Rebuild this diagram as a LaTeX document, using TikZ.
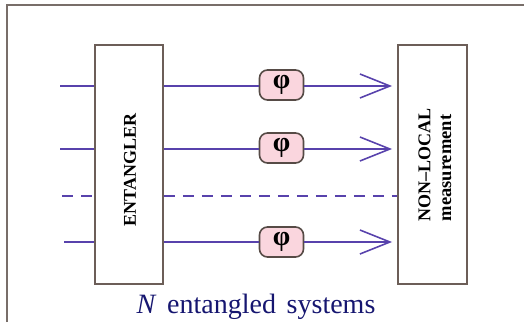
\documentclass[tikz,border=0pt]{standalone}
\usepackage{fontspec}
\setmainfont{Liberation Serif}
\usetikzlibrary{arrows.meta,calc}
\definecolor{wire}{RGB}{88,66,172}
\definecolor{boxc}{RGB}{108,94,88}
\definecolor{framec}{RGB}{120,110,105}
\definecolor{phifill}{RGB}{250,214,222}
\definecolor{navytext}{RGB}{22,22,112}
\tikzset{
  blockbox/.style={draw=boxc, line width=1.8pt, fill=white, minimum width=68pt, minimum height=239pt, inner sep=0pt},
  phibox/.style={draw=boxc!80!black, line width=1.6pt, fill=phifill, rounded corners=8pt, minimum width=44pt, minimum height=30pt, inner sep=0pt, font=\fontsize{28}{28}\selectfont\bfseries},
  wireline/.style={draw=wire, line width=1.6pt},
  arrowline/.style={wireline, -{Straight Barb[length=30pt,width=24pt,line width=1.6pt]}, shorten >=5pt},
  dashline/.style={wireline, dash pattern=on 11pt off 8pt},
  frameline/.style={draw=framec, line width=2pt},
}
\begin{document}
\begin{tikzpicture}[x=1pt,y=-1pt]
\useasboundingbox (0,0) rectangle (524,322);
\draw[frameline] (7,322) -- (7,5) -- (524,5);
\node[blockbox] (ent) at (129,164.5) {};
\node[blockbox, minimum width=69pt] (nl) at (432.5,164.5) {};
\node[rotate=90, font=\fontsize{18}{18}\selectfont\bfseries] (entlabel) at (130,170) {ENTANGLER};
\node[rotate=90, font=\fontsize{18}{18}\selectfont\bfseries] (nllabel) at (424.5,165) {NON–LOCAL};
\node[rotate=90, font=\fontsize{18.5}{18.5}\selectfont\bfseries] (measlabel) at (446,168) {measurement};
% inputs
\coordinate (in1) at (60,86);
\coordinate (in2) at (60,149);
\coordinate (in3) at (62,196);
\coordinate (in4) at (64,242);
\node[phibox] (p1) at (281.5,85) {\raisebox{2pt}{φ}};
\node[phibox] (p2) at (281.5,148) {\raisebox{2pt}{φ}};
\node[phibox] (p4) at (281.5,242) {\raisebox{2pt}{φ}};
\draw[wireline] (in1) -- (in1 -| ent.west);
\draw[wireline] (in2) -- (in2 -| ent.west);
\draw[wireline] (in4) -- (in4 -| ent.west);
\draw[dashline] (in3) -- (in3 -| ent.west);
\draw[dashline] (in3 -| ent.east) -- (in3 -| nl.west);
\draw[wireline] (in1 -| ent.east) -- (p1.west |- in1);
\draw[wireline] (in2 -| ent.east) -- (p2.west |- in2);
\draw[wireline] (in4 -| ent.east) -- (p4.west |- in4);
\draw[arrowline] (p1.east |- in1) -- (in1 -| nl.west);
\draw[arrowline] (p2.east |- in2) -- (in2 -| nl.west);
\draw[arrowline] (p4.east |- in4) -- (in4 -| nl.west);
\node[anchor=base, text=navytext, font=\fontsize{28}{28}\selectfont, inner sep=0pt] (caption) at (256,313) {\textit{N}\hspace{0.38em}entangled\hspace{0.38em}systems};
\end{tikzpicture}
\end{document}
